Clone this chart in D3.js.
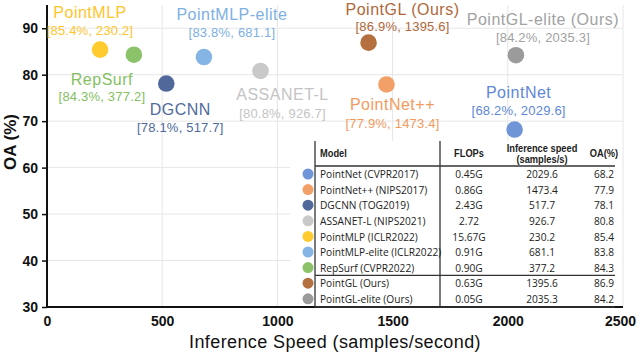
<!DOCTYPE html>
<html><head><meta charset="utf-8">
<script src="https://cdn.jsdelivr.net/npm/d3@7"></script>
<style>
html,body{margin:0;padding:0;background:#fff;}
svg{display:block;}
</style></head>
<body><svg id="c" width="640" height="354"></svg>
<script>
// ---- data ----
const models = ["PointNet","PointNet++","DGCNN","ASSANET-L","PointMLP","PointMLP-elite","RepSurf","PointGL (Ours)","PointGL-elite (Ours)"];
const tableNames = ["PointNet (CVPR2017)","PointNet++ (NIPS2017)","DGCNN (TOG2019)","ASSANET-L  (NIPS2021)","PointMLP (ICLR2022)","PointMLP-elite (ICLR2022)","RepSurf (CVPR2022)","PointGL (Ours)","PointGL-elite (Ours)"];
const flops = ["0.45G","0.86G","2.43G","2.72","15.67G","0.91G","0.90G","0.63G","0.05G"];
const speed = [2029.6,1473.4,517.7,926.7,230.2,681.1,377.2,1395.6,2035.3];
const oa = [68.2,77.9,78.1,80.8,85.4,83.8,84.3,86.9,84.2];
const xTicks = [0,500,1000,1500,2000,2500];
const yTicks = [30,40,50,60,70,80,90];
// ---- styles / layout ----
const colors = ["#6F95D8","#F3A068","#51699A","#C9C9C9","#FFCB2F","#85B5E5","#8CC36A","#B5703F","#9B9B9B"];
const textColors = ["#5E88D6","#F29A5E","#4F6A9C","#C4C4C4","#FFC52A","#7DB0E3","#84C062","#B0683A","#A2A2A2"];
// label offsets relative to marker: [dx, nameDy, bracketDy]
const labelOff = [[4,-37,-19],[6,20,39],[14,26,44],[22,24,43],[-10,-37,-19],[28,-43,-25],[-32,25,42],[34,-33,-16],[27,-36,-18]];

const svg = d3.select("#c");
const L=47, R=623, T=5, B=307;
const x = d3.scaleLinear().domain([0,2500]).range([L,R]);
const y = d3.scaleLinear().domain([30,95]).range([B,T]);
const lfont = "'Liberation Sans',Arial,sans-serif";

// grid
svg.append("g").selectAll("line").data(yTicks.filter(d=>d>30)).join("line")
  .attr("x1",L).attr("x2",R).attr("y1",d=>y(d)).attr("y2",d=>y(d))
  .attr("stroke","#e6e6e6").attr("stroke-width",1);
svg.append("g").selectAll("line").data(xTicks.filter(d=>d>0)).join("line")
  .attr("x1",d=>x(d)).attr("x2",d=>x(d)).attr("y1",T).attr("y2",B)
  .attr("stroke","#e6e6e6").attr("stroke-width",1);

// axes
const yAxis = svg.append("g").attr("transform",`translate(${L},0)`)
  .call(d3.axisLeft(y).tickValues(yTicks).tickFormat(d3.format("d")).tickSize(5).tickPadding(4));
yAxis.select(".domain").attr("stroke","#111").attr("stroke-width",2).attr("d",`M0,${T}V${B}`);
yAxis.selectAll(".tick line").attr("stroke","#111").attr("stroke-width",1.5);
yAxis.selectAll("text").attr("font-family",lfont).attr("font-size",14).attr("font-weight",700).attr("fill","#111");

const xAxis = svg.append("g").attr("transform",`translate(0,${B})`)
  .call(d3.axisBottom(x).tickValues(xTicks).tickFormat(d3.format("d")).tickSize(0).tickPadding(9));
xAxis.select(".domain").attr("stroke","#111").attr("stroke-width",2).attr("d",`M${L},0H${R}`);
xAxis.selectAll("text").attr("font-family",lfont).attr("font-size",14).attr("font-weight",700).attr("fill","#111");
xAxis.selectAll(".tick").filter(d=>d===2500).select("text").attr("dx",-3);

svg.append("text").attr("transform","translate(10,142) rotate(-90)")
  .attr("text-anchor","middle").attr("dominant-baseline","central")
  .attr("font-family",lfont).attr("font-size",17).attr("font-weight",700).attr("fill","#111").text("OA (%)");
svg.append("text").attr("x",335).attr("y",342)
  .attr("text-anchor","middle").attr("dominant-baseline","central")
  .attr("font-family",lfont).attr("font-size",18).attr("letter-spacing",0.4).attr("fill","#111").text("Inference Speed (samples/second)");

// points
const idx = d3.range(models.length);
svg.append("g").selectAll("circle").data(idx).join("circle")
  .attr("cx",i=>x(speed[i])).attr("cy",i=>y(oa[i])).attr("r",8.3).attr("fill",i=>colors[i]);

// labels
const lab = svg.append("g");
idx.forEach(i=>{
  const cx=x(speed[i]), cy=y(oa[i]);
  lab.append("text").attr("x",cx+labelOff[i][0]).attr("y",cy+labelOff[i][1])
    .attr("text-anchor","middle").attr("dominant-baseline","central")
    .attr("font-family",lfont).attr("font-size",16).attr("letter-spacing",0.5).attr("fill",textColors[i]).text(models[i]);
  lab.append("text").attr("x",cx+labelOff[i][0]).attr("y",cy+labelOff[i][2])
    .attr("text-anchor","middle").attr("dominant-baseline","central")
    .attr("font-family",lfont).attr("font-size",13).attr("letter-spacing",0.2).attr("fill",textColors[i])
    .text(`[${oa[i].toFixed(1)}%, ${speed[i].toFixed(1)}]`);
});

// table
const tb = svg.append("g");
const tL=300, tTop=141, tR=622;
tb.append("rect").attr("x",tL-10).attr("y",tTop).attr("width",tR-tL+10).attr("height",B-tTop-1).attr("fill","#fff");
const tf = "'Open Sans','Noto Sans',sans-serif";
const rowY = i=>174+i*15.6;
const lineC="#333";
tb.append("line").attr("x1",315).attr("x2",315).attr("y1",tTop).attr("y2",B).attr("stroke",lineC).attr("stroke-width",1.3);
tb.append("line").attr("x1",440).attr("x2",440).attr("y1",tTop).attr("y2",B).attr("stroke",lineC).attr("stroke-width",1.3);
tb.append("line").attr("x1",315).attr("x2",615).attr("y1",166).attr("y2",166).attr("stroke",lineC).attr("stroke-width",1.3);
tb.append("line").attr("x1",315).attr("x2",615).attr("y1",(rowY(6)+rowY(7))/2).attr("y2",(rowY(6)+rowY(7))/2).attr("stroke",lineC).attr("stroke-width",1.3);
tb.append("line").attr("x1",315).attr("x2",615).attr("y1",B).attr("y2",B).attr("stroke",lineC).attr("stroke-width",1.3);
const hdr = (t,xx,yy,anchor)=>tb.append("text").attr("transform",`translate(${xx},${yy}) scale(0.93,1)`).attr("text-anchor",anchor)
  .attr("dominant-baseline","central").attr("font-family",lfont).attr("font-size",10).attr("font-weight",700).attr("fill","#222").text(t);
hdr("Model",320,153,"start");
hdr("FLOPs",469,153,"middle");
hdr("Inference speed",542,148,"middle");
hdr("(samples/s)",542,159.5,"middle");
hdr("OA(%)",604,153,"middle");
idx.forEach(i=>{
  const yy=rowY(i);
  tb.append("circle").attr("cx",308).attr("cy",yy).attr("r",5.5).attr("fill",colors[i]);
  const cell=(t,xx,anchor)=>tb.append("text").attr("transform",`translate(${xx},${yy}) scale(0.9,1)`).attr("text-anchor",anchor)
    .attr("dominant-baseline","central").attr("font-family",tf).attr("font-size",11.3).attr("fill","#222").text(t);
  cell(tableNames[i],320,"start");
  cell(flops[i],469,"middle");
  cell(speed[i].toFixed(1),542,"middle");
  cell(oa[i].toFixed(1),604,"middle");
});
</script></body></html>
